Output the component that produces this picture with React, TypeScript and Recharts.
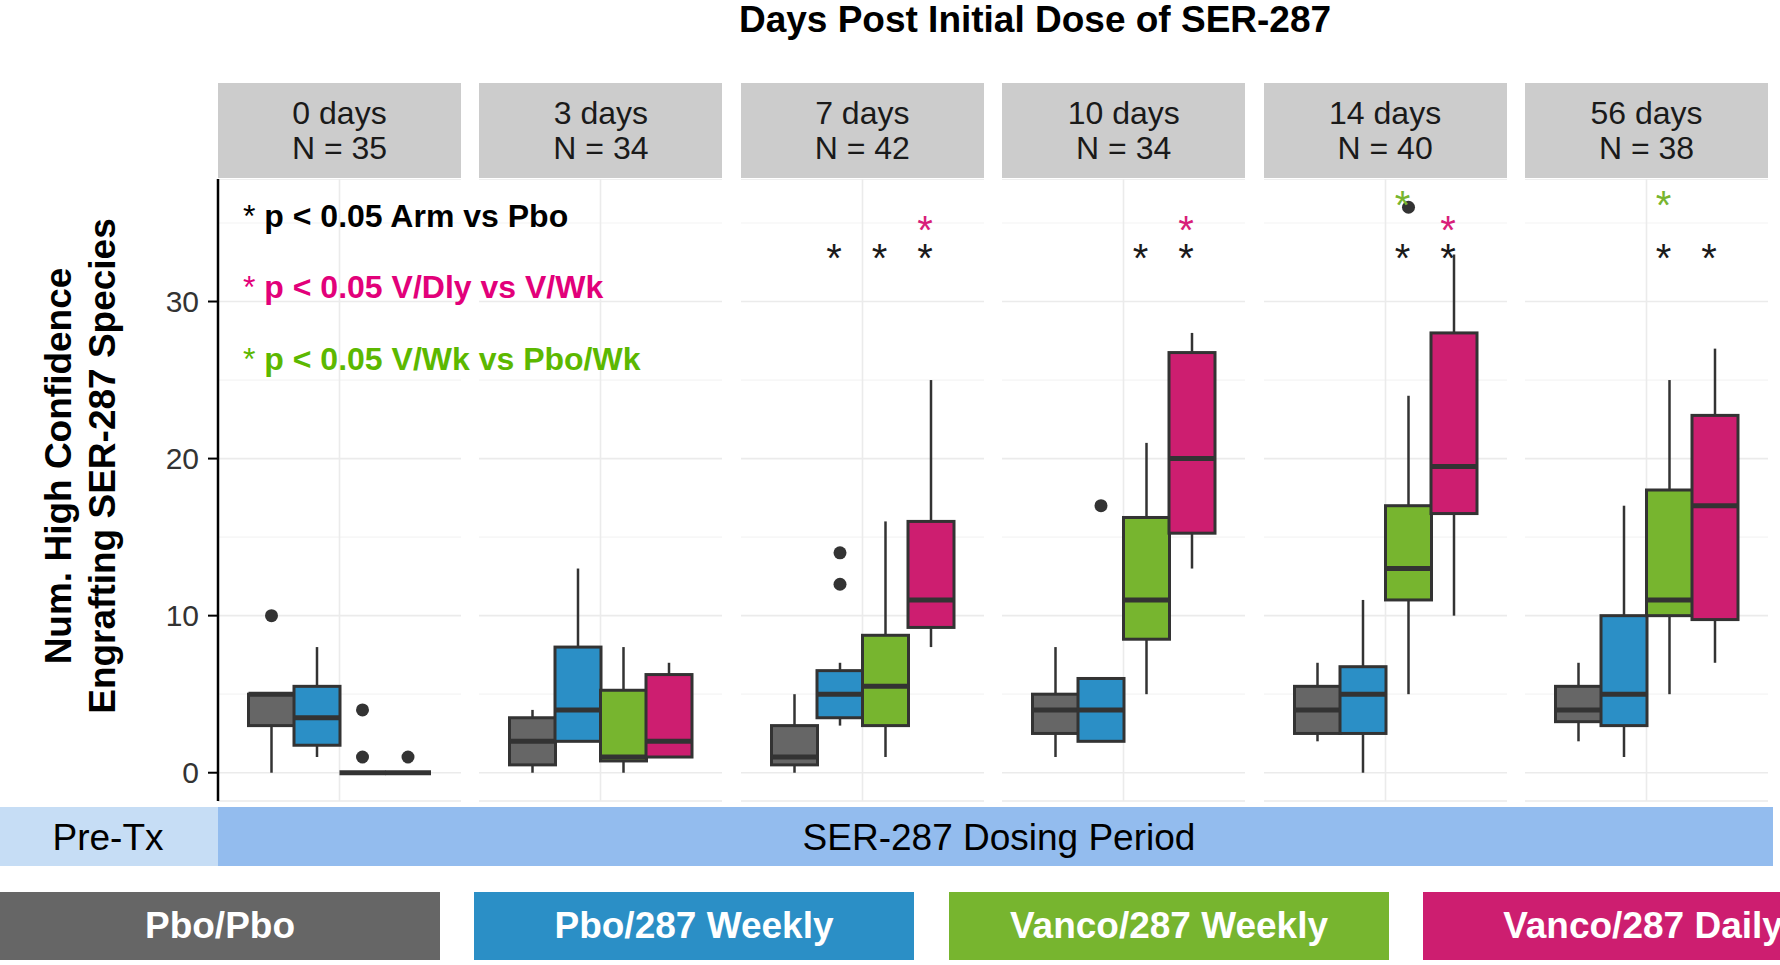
import React from 'react';
import { ComposedChart, Bar, XAxis, YAxis, CartesianGrid } from 'recharts';

// facets and groups
const days = ['0 days', '3 days', '7 days', '10 days', '14 days', '56 days'];
const dayN = [35, 34, 42, 34, 40, 38];
const arms = ['Pbo/Pbo', 'Pbo/287 Weekly', 'Vanco/287 Weekly', 'Vanco/287 Daily'];
const armColors = ['#666666', '#2b8fc6', '#77b52f', '#cd1e70'];

// box statistics: one row per arm, one column per day
const whiskerLow = [
  [0, 0, 0, 1, 2, 2],
  [1, 2, 3, 2, 0, 1],
  [0, 0, 1, 5, 5, 5],
  [0, 1, 8, 13, 10, 7],
];
const lowerQuartile = [
  [3, 0.5, 0.5, 2.5, 2.5, 3.25],
  [1.75, 2, 3.5, 2, 2.5, 3],
  [0, 0.75, 3, 8.5, 11, 10],
  [0, 1, 9.25, 15.25, 16.5, 9.75],
];
const medians = [
  [5, 2, 1, 4, 4, 4],
  [3.5, 4, 5, 4, 5, 5],
  [0, 1, 5.5, 11, 13, 11],
  [0, 2, 11, 20, 19.5, 17],
];
const upperQuartile = [
  [5, 3.5, 3, 5, 5.5, 5.5],
  [5.5, 8, 6.5, 6, 6.75, 10],
  [0, 5.25, 8.75, 16.25, 17, 18],
  [0, 6.25, 16, 26.75, 28, 22.75],
];
const whiskerHigh = [
  [5, 4, 5, 8, 7, 7],
  [8, 13, 7, 6, 11, 17],
  [0, 8, 16, 21, 24, 25],
  [0, 7, 25, 28, 33, 27],
];
const outliers = [
  [[10], [], [], [], [], []],
  [[], [], [12, 14], [17], [], []],
  [[1, 4], [], [], [], [36], []],
  [[1], [], [], [], [], []],
];

// significance stars (1 = shown)
const starArmVsPbo = [
  [0, 0, 0, 0, 0, 0],
  [0, 0, 1, 0, 0, 0],
  [0, 0, 1, 1, 1, 1],
  [0, 0, 1, 1, 1, 1],
];
const starDlyVsWk = [
  [0, 0, 0, 0, 0, 0],
  [0, 0, 0, 0, 0, 0],
  [0, 0, 0, 0, 0, 0],
  [0, 0, 1, 1, 1, 0],
];
const starWkVsPboWk = [
  [0, 0, 0, 0, 0, 0],
  [0, 0, 0, 0, 0, 0],
  [0, 0, 0, 0, 1, 1],
  [0, 0, 0, 0, 0, 0],
];

const yTicks = [0, 10, 20, 30];
const yMinorTicks = [5, 15, 25, 35];
const yDomain: [number, number] = [-1.8, 37.8];
// heights (in data units) of the three star rows
const starLevels = [33.1, 34.9, 36.5];
const starColors = ['#1a1a1a', '#d81f7a', '#77b52f'];

const FONT = '"Liberation Sans", Arial, Helvetica, sans-serif';
const PANEL_W = 243;
const PANEL_STEP = 261.4;
const PANEL_X0 = 218;
const PLOT_TOP = 179;
const PLOT_H = 622;
const XAXIS_H = 12;
const YAXIS_W = 80;

function panelRows(d: number) {
  return arms.map((arm, a) => {
    const stars: { level: number; color: string }[] = [];
    if (starArmVsPbo[a][d]) stars.push({ level: starLevels[0], color: starColors[0] });
    if (starDlyVsWk[a][d]) stars.push({ level: starLevels[1], color: starColors[1] });
    if (starWkVsPboWk[a][d]) stars.push({ level: starLevels[2], color: starColors[2] });
    const pts = [whiskerLow[a][d], whiskerHigh[a][d], ...outliers[a][d], ...stars.map((s) => s.level)];
    return {
      arm,
      color: armColors[a],
      min: whiskerLow[a][d],
      q1: lowerQuartile[a][d],
      median: medians[a][d],
      q3: upperQuartile[a][d],
      max: whiskerHigh[a][d],
      outliers: outliers[a][d],
      stars,
      span: [Math.min(...pts), Math.max(...pts)],
    };
  });
}

function BoxShape(props: any) {
  const { x, y, width, height, payload } = props;
  const [lo, hi] = payload.span;
  const top = Math.min(y, y + height);
  const bottom = Math.max(y, y + height);
  const py = (v: number) => (hi === lo ? bottom : bottom - ((v - lo) / (hi - lo)) * (bottom - top));
  const cx = x + width / 2;
  const stroke = '#333333';
  return (
    <g>
      <line x1={cx} x2={cx} y1={py(payload.max)} y2={py(payload.q3)} stroke={stroke} strokeWidth={2.5} />
      <line x1={cx} x2={cx} y1={py(payload.q1)} y2={py(payload.min)} stroke={stroke} strokeWidth={2.5} />
      <rect
        x={x}
        y={py(payload.q3)}
        width={width}
        height={py(payload.q1) - py(payload.q3)}
        fill={payload.color}
        stroke={stroke}
        strokeWidth={3}
      />
      <line x1={x} x2={x + width} y1={py(payload.median)} y2={py(payload.median)} stroke={stroke} strokeWidth={5} />
      {payload.outliers.map((v: number, i: number) => (
        <circle key={i} cx={cx} cy={py(v)} r={6.5} fill={stroke} />
      ))}
      {payload.stars.map((s: any, i: number) => (
        <text key={'s' + i} x={cx - 6} y={py(s.level) + 19.5} fontSize={40} fontFamily={FONT} textAnchor="middle" fill={s.color}>
          *
        </text>
      ))}
    </g>
  );
}

// vertical grid only at the panel's centre tick (middle of the plot area)
const centreLine = ({ offset }: any) => [offset.left + offset.width / 2];

function Panel({ d }: { d: number }) {
  const first = d === 0;
  const left = PANEL_X0 + d * PANEL_STEP;
  const rows = panelRows(d);
  const yw = first ? YAXIS_W : 0;
  return (
    <>
      <div
        style={{
          position: 'absolute',
          left,
          top: 83,
          width: PANEL_W,
          height: 95,
          background: '#cccccc',
          color: '#1a1a1a',
          fontFamily: FONT,
          fontSize: 32,
          textAlign: 'center',
          lineHeight: '35px',
          paddingTop: 13,
          boxSizing: 'border-box',
        }}
      >
        <div>{days[d]}</div>
        <div>N = {dayN[d]}</div>
      </div>
      <div style={{ position: 'absolute', left: left - yw, top: PLOT_TOP }}>
        <ComposedChart
          width={PANEL_W + yw}
          height={PLOT_H + XAXIS_H}
          data={rows}
          margin={{ top: 0, right: 0, bottom: 0, left: 0 }}
          barCategoryGap={0}
          barGap={0}
        >
          <CartesianGrid xAxisId="panel" yAxisId="minor" vertical={false} stroke="#f4f4f4" strokeWidth={1.2} />
          <CartesianGrid
            xAxisId="panel"
            yAxisId="main"
            stroke="#ebebeb"
            strokeWidth={1.6}
            verticalCoordinatesGenerator={centreLine}
          />
          <XAxis xAxisId="arm" dataKey="arm" type="category" hide padding={{ left: 30.5, right: 30.5 }} />
          <XAxis
            xAxisId="panel"
            type="number"
            domain={[0, 1]}
            ticks={[0.5]}
            allowDataOverflow
            height={XAXIS_H}
            tick={false}
            tickSize={8}
            axisLine={{ stroke: '#000', strokeWidth: 2.5 }}
            tickLine={{ stroke: '#000', strokeWidth: 2 }}
          />
          <YAxis
            yAxisId="main"
            type="number"
            domain={yDomain}
            ticks={yTicks}
            allowDataOverflow
            hide={!first}
            width={YAXIS_W}
            tickSize={10}
            tickMargin={9}
            tick={{ fontSize: 30, fill: '#333333', fontFamily: FONT }}
            axisLine={{ stroke: '#000', strokeWidth: 2.5 }}
            tickLine={{ stroke: '#000', strokeWidth: 2 }}
          />
          <YAxis yAxisId="minor" type="number" domain={yDomain} ticks={yMinorTicks} allowDataOverflow hide />
          <Bar xAxisId="arm" yAxisId="main" dataKey="span" shape={BoxShape} isAnimationActive={false} />
        </ComposedChart>
      </div>
    </>
  );
}

const legendX = [0, 474, 949, 1423];

export default function App() {
  return (
    <div
      style={{
        position: 'absolute',
        left: 0,
        top: 0,
        width: 1780,
        height: 965,
        overflow: 'hidden',
        background: '#ffffff',
        fontFamily: FONT,
      }}
    >
      {days.map((_, d) => (
        <Panel key={d} d={d} />
      ))}

      {/* treatment period band */}
      <div style={{ position: 'absolute', left: 0, top: 807, width: 218, height: 59, background: '#c6ddf5' }} />
      <div style={{ position: 'absolute', left: 218, top: 807, width: 1555, height: 59, background: '#93bcee' }} />

      {/* arm legend */}
      {arms.map((arm, a) => (
        <div
          key={arm}
          style={{
            position: 'absolute',
            left: legendX[a],
            top: 892,
            width: 440,
            height: 68,
            background: armColors[a],
            color: '#ffffff',
            fontWeight: 'bold',
            fontSize: 37,
            display: 'flex',
            alignItems: 'center',
            justifyContent: 'center',
          }}
        >
          {arm}
        </div>
      ))}

      <svg
        width={1780}
        height={965}
        style={{ position: 'absolute', left: 0, top: 0, pointerEvents: 'none' }}
        fontFamily={FONT}
      >
        <text x={1035} y={32} fontSize={37} fontWeight="bold" textAnchor="middle" fill="#000">
          Days Post Initial Dose of SER-287
        </text>
        <text transform="translate(71,466) rotate(-90)" fontSize={37} fontWeight="bold" textAnchor="middle" fill="#000">
          Num. High Confidence
        </text>
        <text transform="translate(115,466) rotate(-90)" fontSize={37} fontWeight="bold" textAnchor="middle" fill="#000">
          Engrafting SER-287 Species
        </text>

        <text x={243} y={227} fontSize={32} fontWeight="bold" fill="#000">
          <tspan fontWeight="normal">*</tspan> p &lt; 0.05 Arm vs Pbo
        </text>
        <text x={243} y={298} fontSize={32} fontWeight="bold" fill="#e2007a">
          <tspan fontWeight="normal">*</tspan> p &lt; 0.05 V/Dly vs V/Wk
        </text>
        <text x={243} y={370} fontSize={32} fontWeight="bold" fill="#5cb800">
          <tspan fontWeight="normal">*</tspan> p &lt; 0.05 V/Wk vs Pbo/Wk
        </text>

        <text x={108} y={850} fontSize={37} textAnchor="middle" fill="#000">
          Pre-Tx
        </text>
        <text x={999} y={850} fontSize={37} textAnchor="middle" fill="#000">
          SER-287 Dosing Period
        </text>
      </svg>
    </div>
  );
}
